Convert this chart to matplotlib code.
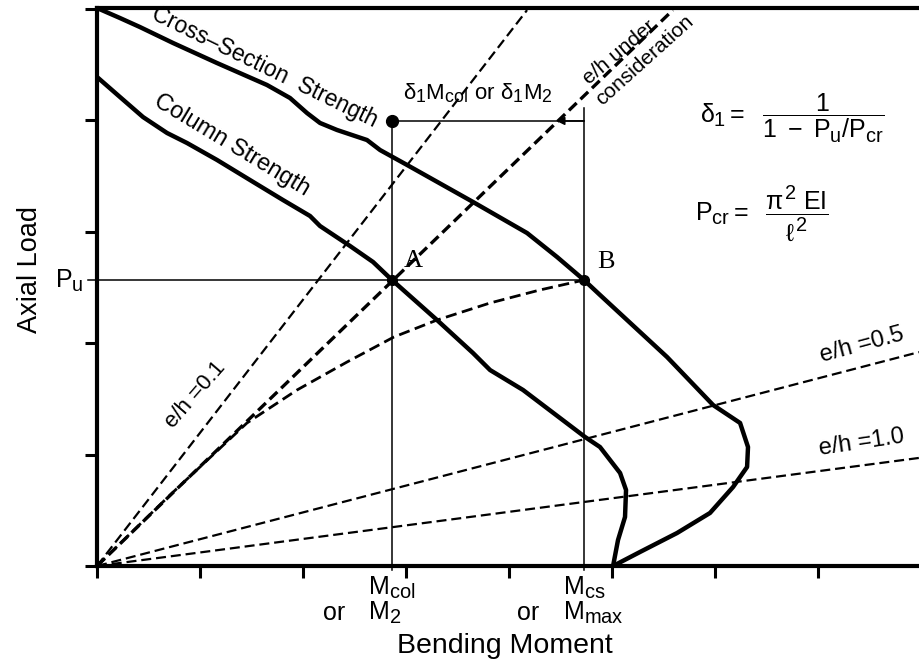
import matplotlib
matplotlib.use("Agg")
import matplotlib.pyplot as plt
import matplotlib._mathtext as _mt

_mt.SHRINK_FACTOR = 0.8  # larger sub/superscripts, as in the reference

plt.rcParams['font.family'] = ['Liberation Sans', 'DejaVu Sans']
plt.rcParams['mathtext.fontset'] = 'custom'
plt.rcParams['mathtext.rm'] = 'Liberation Sans'
plt.rcParams['mathtext.it'] = 'Liberation Sans'
plt.rcParams['mathtext.bf'] = 'Liberation Sans:bold'

# ---------------- data ----------------
# Cross-section strength interaction curve (moment, axial load)
cs_M = [0.0, 0.223, 0.417, 0.738, 1.165, 1.650, 1.874, 2.039, 2.165, 2.330, 2.621,
        2.748, 3.010, 3.650, 4.175, 4.466, 4.728, 4.883, 5.534, 5.981, 6.243, 6.320,
        6.311, 6.175, 5.951, 5.631, 5.272, 5.010]
cs_P = [5.009, 4.919, 4.838, 4.695, 4.515, 4.318, 4.201, 4.066, 3.977, 3.914, 3.824,
        3.734, 3.600, 3.268, 2.989, 2.774, 2.567, 2.433, 1.876, 1.445, 1.284, 1.068,
        0.889, 0.709, 0.476, 0.296, 0.126, 0.0]

# Column strength curve
col_M = [0.0, 0.223, 0.447, 0.680, 0.874, 1.165, 1.485, 1.806, 2.068, 2.165, 2.456,
         2.680, 2.864, 3.301, 3.650, 3.816, 4.136, 4.738, 4.883, 5.078, 5.136, 5.126,
         5.058, 5.010]
col_P = [4.390, 4.210, 4.030, 3.887, 3.797, 3.645, 3.465, 3.285, 3.142, 3.052, 2.873,
         2.729, 2.567, 2.208, 1.912, 1.759, 1.580, 1.158, 1.068, 0.835, 0.682, 0.440,
         0.233, 0.0]

# Load-moment curve from origin to B
lm_M = [0.0, 0.709, 1.456, 1.942, 2.427, 2.883, 3.301, 3.816, 4.301, 4.728]
lm_P = [0.0, 0.637, 1.284, 1.580, 1.831, 2.056, 2.208, 2.361, 2.478, 2.567]

# Radial e/h lines: end points (moment, axial load)
eh_names = ['e/h =0.1', 'e/h under consideration', 'e/h =0.5', 'e/h =1.0']
eh_end_M = [4.175, 5.590, 7.98, 7.98]
eh_end_P = [4.990, 4.990, 1.920, 0.970]

# Key values
Pu = 2.567
M_col = 2.864
M_cs = 4.728
dM_P = 3.995          # level of the delta*M point
dM_arrow_M = 4.46     # where the arrow meets the e/h line
Mcs_top = 4.11

x_ticks = [0, 1, 2, 3, 4, 5, 6, 7]
y_ticks = [0, 1, 2, 3, 4, 5]

# ---------------- figure ----------------
fig = plt.figure(figsize=(9.19, 6.64), dpi=100)
ax = fig.add_axes([97 / 919, 98 / 664, 1 - 97 / 919, (566 - 8) / 664])
ax.set_xlim(0, 7.98)
ax.set_ylim(0, 5.009)

for s in ['left', 'bottom', 'top']:
    ax.spines[s].set_linewidth(3.0)
ax.spines['right'].set_visible(False)
ax.set_xticks(x_ticks)
ax.set_yticks(y_ticks)
ax.set_xticklabels([])
ax.set_yticklabels([])
ax.tick_params(direction='out', length=8.5, width=2.2, top=False, right=False)

# e/h lines
dash_thin = (0, (4.5, 2.2))
for i, name in enumerate(eh_names):
    if 'consideration' in name:
        ax.plot([0, eh_end_M[i]], [0, eh_end_P[i]], color='k', lw=2.4,
                linestyle=(0, (3.2, 1.6)), clip_on=False)
    else:
        ax.plot([0, eh_end_M[i]], [0, eh_end_P[i]], color='k', lw=1.6,
                linestyle=dash_thin)

# load-moment curve
ax.plot(lm_M, lm_P, color='k', lw=2.0, linestyle=(0, (4, 2)))

# strength curves
ax.plot(cs_M, cs_P, color='k', lw=3.2, solid_capstyle='round', solid_joinstyle='round')
ax.plot(col_M, col_P, color='k', lw=3.2, solid_capstyle='round', solid_joinstyle='round')

# thin reference lines
ax.plot([-0.085, M_cs], [Pu, Pu], color='k', lw=1.1, clip_on=False)
ax.plot([M_col, M_col], [-0.04, dM_P], color='k', lw=1.1, clip_on=False)
ax.plot([M_cs, M_cs], [-0.04, Mcs_top], color='k', lw=1.1, clip_on=False)
ax.plot([M_col, M_cs], [dM_P, dM_P], color='k', lw=1.1)
ax.annotate('', xy=(dM_arrow_M, dM_P), xytext=(M_cs, dM_P),
            arrowprops=dict(arrowstyle='-|>', lw=1.1, color='k', mutation_scale=12,
                            shrinkA=0, shrinkB=0))

# points
ax.plot([M_col, M_cs], [Pu, Pu], 'o', color='k', ms=7)
ax.plot([M_col], [dM_P], 'o', color='k', ms=8.5)

# labels on the chart
ax.text(1.63, 4.48, 'Cross\u2013Section  Strength', rotation=-26, fontsize=16.5,
        ha='center', va='center', rotation_mode='anchor')
ax.text(1.311, 3.779, 'Column Strength', rotation=-31, fontsize=17,
        ha='center', va='center', rotation_mode='anchor')
ax.text(3.068, 2.738, 'A', fontsize=19, family='Liberation Serif', ha='center', va='center')
ax.text(4.94, 2.73, 'B', fontsize=19, family='Liberation Serif', ha='center', va='center')
ax.text(3.70, 4.246, r'$\delta_1$M$_{col}$ or $\delta_1$M$_2$', fontsize=16,
        ha='center', va='center')
ax.text(5.068, 4.614, 'e/h under', rotation=40, fontsize=15,
        ha='center', va='center', rotation_mode='anchor')
ax.text(5.32, 4.542, 'consideration', rotation=42, fontsize=15,
        ha='center', va='center', rotation_mode='anchor')
ax.text(0.951, 1.535, 'e/h =0.1', rotation=49, fontsize=16,
        ha='center', va='center', rotation_mode='anchor')
ax.text(7.427, 1.984, 'e/h =0.5', rotation=15, fontsize=17,
        ha='center', va='center', rotation_mode='anchor')
ax.text(7.427, 1.104, 'e/h =1.0', rotation=8.5, fontsize=17,
        ha='center', va='center', rotation_mode='anchor')

# formulas
ax.text(5.854, 4.02, r'$\delta_1 =\ \ \dfrac{1}{1\ -\ P_u/P_{cr}}$', fontsize=18,
        ha='left', va='center')
ax.text(5.806, 3.169, r'$P_{cr} =\ \ \dfrac{\pi^{2}\ EI}{\ell^{2}}$', fontsize=18,
        ha='left', va='center')

# axis-like labels
ax.text(-0.408, 2.496, r'P$_u$', fontsize=18, ha='left', va='baseline')
ax.text(2.631, -0.26, r'M$_{col}$', fontsize=18, ha='left', va='baseline')
ax.text(2.631, -0.485, r'M$_2$', fontsize=18, ha='left', va='baseline')
ax.text(2.194, -0.485, 'or', fontsize=18, ha='left', va='baseline')
ax.text(4.524, -0.26, r'M$_{cs}$', fontsize=18, ha='left', va='baseline')
ax.text(4.524, -0.485, r'M$_{max}$', fontsize=18, ha='left', va='baseline')
ax.text(4.078, -0.485, 'or', fontsize=18, ha='left', va='baseline')

fig.text(30 / 919, 1 - 270 / 664, 'Axial Load', rotation=90, fontsize=19.5,
         ha='center', va='center')
fig.text(505 / 919, 11 / 664, 'Bending Moment', fontsize=20.5, ha='center', va='baseline')

fig.savefig('out.png', dpi=100)
